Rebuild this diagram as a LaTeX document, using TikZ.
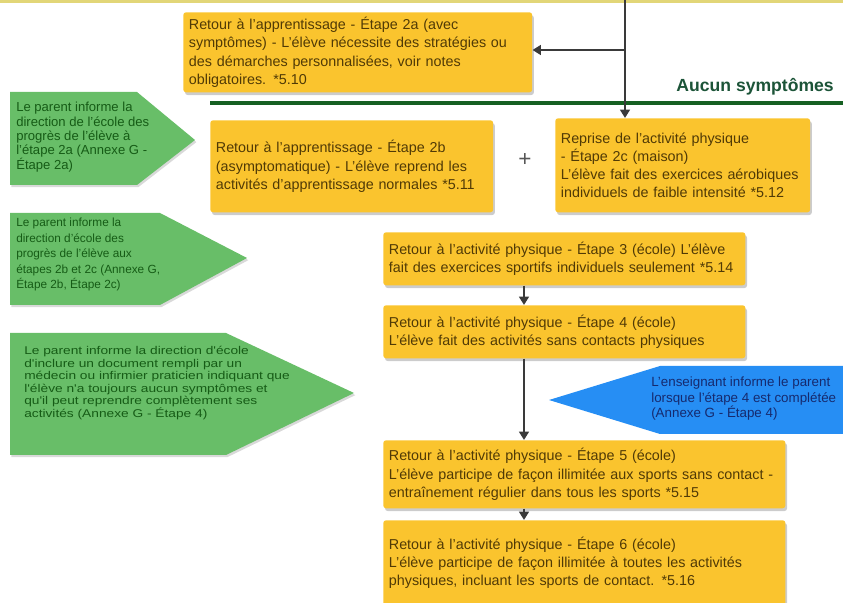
\documentclass[tikz,border=0pt]{standalone}
\usepackage{fontspec}
\setmainfont{Liberation Sans}
\newfontfamily\widefont[FakeStretch=1.22]{Liberation Sans}
\usetikzlibrary{positioning,arrows.meta,shadows}
\definecolor{StepFill}{RGB}{250,196,46}
\definecolor{StepInk}{RGB}{80,58,6}
\definecolor{ParentFill}{RGB}{104,190,104}
\definecolor{ParentInk}{RGB}{22,92,22}
\definecolor{TeachFill}{RGB}{38,142,244}
\definecolor{TeachInk}{RGB}{22,42,110}
\definecolor{ArrowInk}{RGB}{58,58,58}
\definecolor{NoSympLine}{RGB}{22,96,34}
\definecolor{NoSympInk}{RGB}{28,84,56}
\definecolor{TopEdge}{RGB}{226,214,120}

\begin{document}
\begin{tikzpicture}[x=0.025cm,y=-0.025cm,
  box/.style={fill=StepFill,rounded corners=2pt,anchor=north west,inner xsep=4pt,inner ysep=3pt,align=left,text=StepInk,font=\fontsize{10.2}{13}\selectfont,drop shadow={shadow xshift=1.2pt,shadow yshift=-2pt,opacity=.4}},
  parent/.style={fill=ParentFill,drop shadow={shadow xshift=1pt,shadow yshift=-1.5pt,opacity=.3}},
  parenttext/.style={anchor=north west,inner sep=0pt,align=left,text=ParentInk,font=\fontsize{8.4}{11}\selectfont},
  teach/.style={fill=TeachFill},
  teachtext/.style={anchor=north west,inner sep=0pt,align=left,text=TeachInk,font=\fontsize{9.5}{10.7}\selectfont},
  arr/.style={-{Triangle[length=6pt,width=7pt]},line width=2pt,draw=ArrowInk}]
  \useasboundingbox (0,0) rectangle (843,603);
  \fill[TopEdge] (0,0) rectangle (843,3);
  \node[box,text width=8.44cm,minimum height=2cm] (etapea) at (183,12) {Retour à l'apprentissage - Étape 2a (avec\\symptômes) - L'élève nécessite des stratégies ou\\des démarches personnalisées, voir notes\\obligatoires. *5.10};
  \coordinate (lineW) at (210,103);
  \coordinate (lineE) at (843,103);
  \draw[line width=2.6pt,draw=NoSympLine] (lineW) -- (lineE);
  \node[anchor=south east,inner sep=0pt,text=NoSympInk,font=\bfseries\fontsize{12.5}{14}\selectfont] (aucun) at (834,95) {Aucun symptômes};
  \fill[parent] (10,92) -- (137,92) -- (195,140) -- (137,185) -- (10,185) -- cycle;
  \node[parenttext,font=\fontsize{9.3}{10.2}\selectfont] (parenta) at (16,102) {Le parent informe la\\direction de l'école des\\progrès de l'élève à\\l'étape 2a (Annexe G -\\Étape 2a)};
  \node[box,text width=6.79cm,minimum height=2.3cm] (etapeb) at (210,120) {Retour à l'apprentissage - Étape 2b\\(asymptomatique) - L'élève reprend les\\activités d'apprentissage normales *5.11};
  \node[text=ArrowInk!85,font=\fontsize{16}{16}\selectfont] (plus) at (525,160) {+};
  \node[box,text width=6.09cm,minimum height=2.35cm] (etapec) at (555,118) {Reprise de l'activité physique\\- Étape 2c (maison)\\L'élève fait des exercices aérobiques\\individuels de faible intensité *5.12};
  \fill[parent] (10,213) -- (160,213) -- (247,258) -- (160,305) -- (10,305) -- cycle;
  \node[parenttext] (parentb) at (16,218) {Le parent informe la\\direction d'école des\\progrès de l'élève aux\\étapes 2b et 2c (Annexe G,\\Étape 2b, Étape 2c)};
  \node[box,text width=8.77cm,minimum height=1.325cm] (etape3) at (383,232) {Retour à l'activité physique - Étape 3 (école) L'élève\\fait des exercices sportifs individuels seulement *5.14};
  \node[box,text width=8.77cm,minimum height=1.325cm] (etape4) at (383,305) {Retour à l'activité physique - Étape 4 (école)\\L'élève fait des activités sans contacts physiques};
  \fill[parent] (10,333) -- (226,333) -- (354,393) -- (226,455) -- (10,455) -- cycle;
  \node[parenttext,font=\widefont\fontsize{8}{8.9}\selectfont] (parentc) at (24,346) {Le parent informe la direction d'école\\d'inclure un document rempli par un\\médecin ou infirmier praticien indiquant que\\l'élève n'a toujours aucun symptômes et\\qu'il peut reprendre complètement ses\\activités (Annexe G - Étape 4)};
  \fill[teach] (850,366) -- (660,366) -- (549,400) -- (660,434) -- (850,434) -- cycle;
  \node[teachtext] (teacher) at (651,377) {L'enseignant informe le parent\\lorsque l'étape 4 est complétée\\(Annexe G - Étape 4)};
  \node[box,text width=9.77cm,minimum height=1.7cm] (etape5) at (383,440) {Retour à l'activité physique - Étape 5 (école)\\L'élève participe de façon illimitée aux sports sans contact -\\entraînement régulier dans tous les sports *5.15};
  \node[box,text width=9.77cm,minimum height=2.125cm] (etape6) at (383,520) {Retour à l'activité physique - Étape 6 (école)\\L'élève participe de façon illimitée à toutes les activités\\physiques, incluant les sports de contact. *5.16};
  \coordinate (feed) at (625,0);
  \coordinate (split) at (625,50);
  \coordinate (spine) at (524,0);
  \draw[arr] (feed) -- (feed |- etapec.north);
  \draw[arr] (split) -- (split -| etapea.east);
  \draw[arr] (spine |- etape3.south) -- (spine |- etape4.north);
  \draw[arr] (spine |- etape4.south) -- (spine |- etape5.north);
  \draw[arr] (spine |- etape5.south) -- (spine |- etape6.north);
\end{tikzpicture}
\end{document}
